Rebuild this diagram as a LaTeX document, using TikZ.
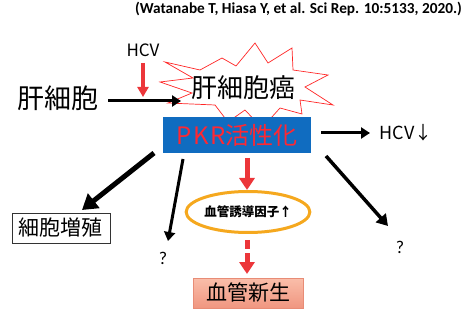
\documentclass[tikz,border=0pt]{standalone}
\usepackage{fontspec}
\setmainfont{Carlito}
\newfontfamily\jp{Noto Sans CJK JP}
\usetikzlibrary{arrows.meta,shapes.geometric}
\definecolor{arrred}{RGB}{236,54,58}
\definecolor{pkrblue}{RGB}{16,108,192}
\definecolor{pkrtext}{RGB}{255,40,50}
\definecolor{ellor}{RGB}{245,168,30}
\definecolor{salmonT}{RGB}{250,190,170}
\definecolor{salmonB}{RGB}{240,150,128}
\definecolor{salmonD}{RGB}{232,140,118}
\tikzset{
  blk/.style={line width=3pt,-{Triangle[length=9pt,width=11pt]}},
  blkthick/.style={line width=5pt,-{Triangle[length=15pt,width=18pt]}},
  blkmid/.style={line width=3.5pt,-{Triangle[length=11pt,width=13pt]}},
  redar/.style={draw=arrred,line width=3.5pt,-{Triangle[length=10pt,width=11pt]}},
  redbig/.style={draw=arrred,line width=5pt,-{Triangle[length=12pt,width=15pt]}},
  jptxt/.style={font=\jp, inner sep=0pt},
  qmark/.style={font=\fontsize{18}{20}\selectfont, inner sep=0pt},
}
\begin{document}
\begin{tikzpicture}[x=1pt,y=-1pt]
\useasboundingbox (0,0) rectangle (469,326);
% citation
\node[anchor=east,font=\fontsize{15.3}{17}\selectfont\bfseries,inner sep=0pt] (cite) at (462,9) {(Watanabe T, Hiasa Y, et al. Sci Rep. 10:5133, 2020.)};
% starburst
\draw[red!85,line width=0.7pt,fill=white]
 (165,62) -- (200,70) -- (222,58) -- (236,66) -- (255,43) -- (268,63) -- (292,48) -- (293,70)
 -- (328,75) -- (305,87) -- (333,105) -- (300,100) -- (302,114) -- (280,108) -- (262,128)
 -- (245,110) -- (228,122) -- (215,105) -- (168,103) -- (192,93) -- (160,82) -- (193,78) -- cycle;
% texts
\node[jptxt,font=\jp\fontsize{27}{30}\selectfont] (liver) at (58,98) {肝細胞};
\node[jptxt,font=\jp\fontsize{17}{20}\selectfont] (hcv) at (143,50) {HCV};
\node[jptxt,font=\jp\fontsize{26}{30}\selectfont] (cancer) at (243,88) {肝細胞癌};
\node[fill=pkrblue,minimum width=148pt,minimum height=36pt,inner sep=0pt,
      text=pkrtext,font=\jp\fontsize{24}{28}\selectfont] (pkr) at (237,135) {P\kern2pt K\kern2pt R活性化};
\node[jptxt,font=\jp\fontsize{18}{22}\selectfont] (hcvdown) at (406,133) {HCV↓};
\node[draw=black!80,line width=0.9pt,minimum width=98pt,minimum height=30pt,inner sep=0pt,
      font=\jp\fontsize{21}{24}\selectfont] (prolif) at (61,228) {細胞増殖};
\node[qmark] (q1) at (163,258) {?};
\node[qmark] (q2) at (400,247) {?};
\node[ellipse,draw=ellor,line width=3pt,minimum width=116pt,minimum height=41pt,inner sep=0pt,
      font=\jp\bfseries\fontsize{12.5}{14}\selectfont] (vegf) at (248,212) {血管誘導因子↑};
\node[draw=salmonD,line width=0.8pt,top color=salmonT,bottom color=salmonB,
      minimum width=110pt,minimum height=30pt,inner sep=0pt,
      font=\jp\fontsize{21}{24}\selectfont] (angio) at (248,293) {血管新生};
% arrows
\draw[redar] ([shift={(0,13)}]hcv.center) -- ([shift={(0,47)}]hcv.center);
\draw[blk] ([shift={(50,3)}]liver.center) -- ([shift={(-62,13)}]cancer.center);
\draw[blk] ([shift={(84,-2)}]pkr.center) -- ([shift={(-36,0)}]hcvdown.center);
\draw[blkthick] ([shift={(-83,18)}]pkr.center) -- ([shift={(21,-18)}]prolif.center);
\draw[blk] ([shift={(-54,24)}]pkr.center) -- ([shift={(5,-17)}]q1.center);
\draw[blkmid] ([shift={(89,21)}]pkr.center) -- ([shift={(-12,-21)}]q2.center);
\draw[redbig] ([shift={(10,23)}]pkr.center) -- ([shift={(-1,-22)}]vegf.center);
\draw[redbig,dash pattern=on 9pt off 4pt] ([shift={(-1,28)}]vegf.center) -- ([shift={(-1,-19)}]angio.center);
\end{tikzpicture}
\end{document}
